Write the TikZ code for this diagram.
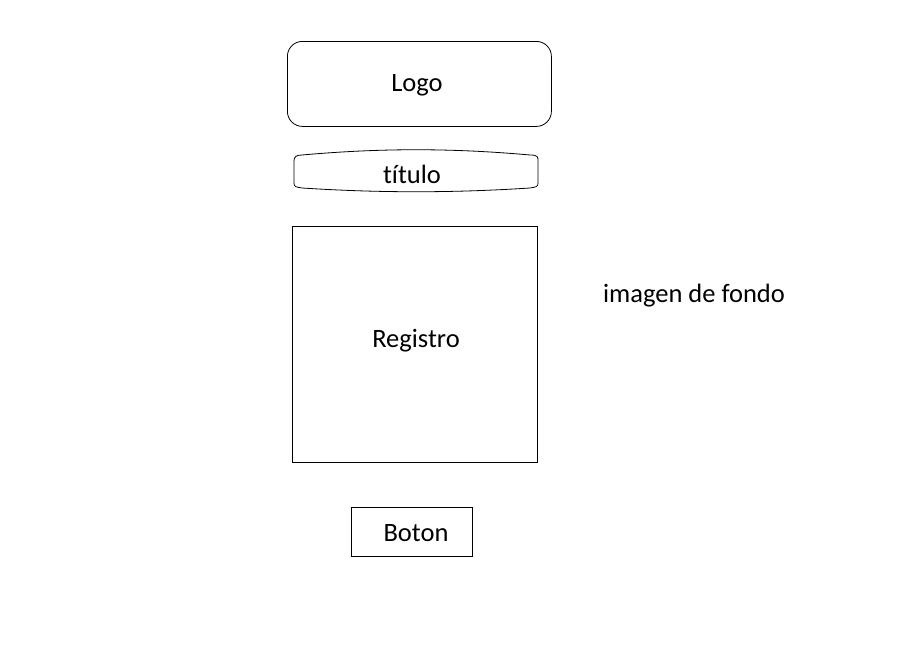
\documentclass[tikz,border=0pt]{standalone}
\usepackage{fontspec}
\setmainfont{Carlito}[Ligatures={NoCommon,TeX}]
\begin{document}
\begin{tikzpicture}[x=1pt,y=-1pt,
  box/.style={draw=black,line width=0.8pt},
  lbl/.style={font=\fontsize{26.5}{30}\selectfont,inner sep=0pt}]
\useasboundingbox (0,0) rectangle (905,648);
\node[box,rounded corners=15pt,minimum width=264pt,minimum height=85pt,anchor=north west] (logo) at (287,41) {};
\node[lbl] (logot) at (417,85) {Logo};
% titulo scroll shape
\coordinate (t) at (412,174);
\draw[line width=0.8pt] (302,155) .. controls (380,148) and (452,148) .. (530,155)
  .. controls (538,155) and (538,157) .. (538,161) -- (538,183)
  .. controls (538,187) and (536,187) .. (530,188)
  .. controls (452,193) and (380,193) .. (302,188)
  .. controls (296,187) and (294,187) .. (294,183) -- (294,161)
  .. controls (294,157) and (296,155) .. (302,155) -- cycle;
\node[lbl] (titulo) at (t) {t{}ítulo};
\node[box,minimum width=245pt,minimum height=236pt,anchor=north west] (reg) at (292,226) {};
\node[lbl] (regt) at (416,341) {Registro};
\node[box,minimum width=121pt,minimum height=49pt,anchor=north west] (boton) at (351,507) {};
\node[lbl] (botont) at (416,533) {Boton};
\node[lbl] (fondo) at (694,296) {imagen de fondo};
\end{tikzpicture}
\end{document}
